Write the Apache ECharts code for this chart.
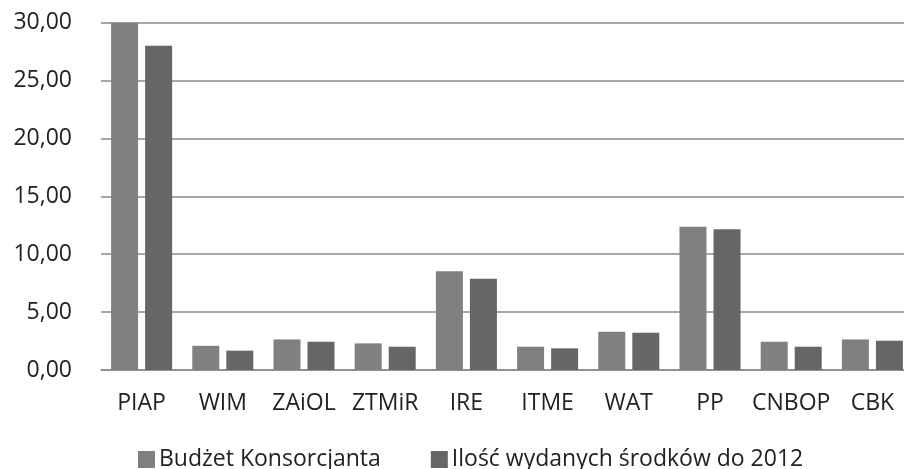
<!DOCTYPE html>
<html>
<head>
<meta charset="utf-8">
<script src="https://cdn.jsdelivr.net/npm/echarts@6/dist/echarts.min.js"></script>
<style>
html,body{margin:0;padding:0;background:#fff;}
#c{width:904px;height:469px;}
</style>
</head>
<body>
<div id="c"></div>
<script>
var categories = ['PIAP', 'WIM', 'ZAiOL', 'ZTMiR', 'IRE', 'ITME', 'WAT', 'PP', 'CNBOP', 'CBK'];
var budzet = [30.0, 2.09, 2.64, 2.30, 8.53, 2.01, 3.30, 12.38, 2.44, 2.64];
var wydane = [28.0, 1.67, 2.44, 2.01, 7.88, 1.87, 3.22, 12.15, 2.01, 2.53];
var seriesNames = ['Budżet Konsorcjanta', 'Ilość wydanych środków do 2012'];
var yMin = 0, yMax = 30, yStep = 5;

var FONT = '"Open Sans", sans-serif';
var chart = echarts.init(document.getElementById('c'), null, {renderer: 'canvas'});
chart.setOption({
  animation: false,
  backgroundColor: '#ffffff',
  grid: {left: 101, top: 22.7, width: 812, height: 347.3, containLabel: false, outerBoundsMode: 'none'},
  legend: {
    left: 133, top: 443, padding: 5,
    itemWidth: 17, itemHeight: 17, itemGap: 50,
    icon: 'rect',
    textStyle: {fontFamily: FONT, fontSize: 23, color: '#222', padding: [0, 0, 0, -1]},
    data: seriesNames
  },
  xAxis: {
    type: 'category',
    data: categories,
    axisLine: {show: true, lineStyle: {color: '#8a8a8a', width: 1.5}},
    axisTick: {show: false},
    axisLabel: {fontFamily: FONT, fontSize: 23, color: '#222', margin: 22, interval: 0}
  },
  yAxis: {
    type: 'value',
    min: yMin, max: yMax, interval: yStep,
    axisLine: {show: false},
    axisTick: {show: false},
    splitLine: {show: true, lineStyle: {color: '#8a8a8a', width: 1.5}},
    axisLabel: {
      fontFamily: FONT, fontSize: 23, color: '#222', margin: 29,
      formatter: function (v) { return v.toFixed(2).replace('.', ','); }
    }
  },
  series: [
    {name: seriesNames[0], type: 'bar', data: budzet, barWidth: 27, barGap: '26%',
     itemStyle: {color: '#808080'}},
    {name: seriesNames[1], type: 'bar', data: wydane, barWidth: 27,
     itemStyle: {color: '#666666'}}
  ]
});
</script>
</body>
</html>
